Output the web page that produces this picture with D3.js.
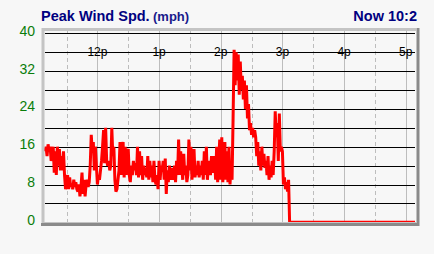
<!DOCTYPE html>
<html>
<head>
<meta charset="UTF-8">
<style>
  body { margin: 0; background: #f7f7f7; }
  svg { display: block; }
</style>
</head>
<body>
<div id="chart"></div>
<script src="https://d3js.org/d3.v7.min.js"></script>
<script>
// peak wind speed, one sample per minute, first sample at 11:09
const firstMinute = 9;          // minutes after 11:00
const lastMinute = 369;         // right edge of the window
const speeds = [
  15, 16, 14, 16.5, 15, 16, 13, 14, 16, 10.5, 15,
  10, 16, 12, 15.5, 11, 14, 11, 15, 10, 7, 9,
  10, 7, 9.5, 7.5, 8, 7, 9, 7.5, 8.5, 7, 6.5, 8, 5.5, 7.5,
  10.5, 6, 9, 5.5, 8, 9, 7.5, 8.5, 12, 18.5, 15,
  17, 11, 16, 12, 8, 10, 9, 11, 13, 16, 19.5, 12.5, 20, 13,
  12, 13, 11, 12, 20, 14, 16, 9, 6.5, 7, 9, 11, 17, 10, 15,
  17, 9.5, 16, 10, 15, 15.5, 10, 8.5, 12, 10, 13, 11, 12.5, 10,
  16, 9.5, 15, 10, 14, 9, 12, 10, 11.5, 9.5, 14, 9, 13, 9.5,
  12, 8.5, 13, 9, 8, 10, 7, 13, 9, 12, 11, 13, 9, 13.5, 6,
  11, 8.5, 12, 10.5, 9, 11.5, 9, 12, 8.5, 13, 10, 17.5, 10, 15,
  12, 9, 14.5, 10, 12, 8.5, 10, 17.5, 11, 16, 9, 13,
  15.5, 9.5, 12, 10, 13, 9.5, 12, 10, 13, 9, 15, 10, 16, 9, 12,
  13, 10, 14, 10.5, 12, 14, 9, 16, 8.5, 13, 17.5, 9, 18, 8.5, 14,
  17, 9, 15, 8.5, 16, 8, 12, 9, 22, 36.5,
  29, 36, 30, 35.5, 27, 34, 28, 31, 26, 30, 24, 29, 22, 25, 19.5, 21,
  18.5, 20, 18, 19.5, 18, 14, 17, 12, 15, 11, 16, 12, 14.5, 11.5, 13,
  10, 14, 9, 12, 9.5, 13, 10, 15, 23.5, 18, 21, 13, 23, 15, 16, 15,
  8, 9.5, 7, 8.5, 6.5, 9
];
const hourMinutes = [60, 120, 180, 240, 300, 360];
const hourLabels = ["12p", "1p", "2p", "3p", "4p", "5p"];
const halfHourMinutes = [30, 90, 150, 210, 270, 330];
const gridValues = [4, 8, 12, 16, 20, 24, 28, 32, 36, 40];
const yTickValues = [0, 8, 16, 24, 32, 40];

const W = 434, H = 254;
const svg = d3.select("#chart").append("svg")
  .attr("width", W).attr("height", H)
  .style("font-family", "'Liberation Sans', Arial, sans-serif");

svg.append("rect").attr("width", W).attr("height", H).attr("fill", "#f7f7f7");

const x = d3.scaleLinear().domain([firstMinute, lastMinute]).range([45, 415]);
const y = d3.scaleLinear().domain([0, 40]).range([222.3, 33.3]);

// points: samples, then zero until the right edge
const points = speeds.map((v, i) => ({ t: firstMinute + i, v: v }));
for (let t = firstMinute + speeds.length; t <= lastMinute; t++) points.push({ t: t, v: 0 });

// title
svg.append("text").attr("x", 41).attr("y", 21)
  .attr("fill", "#000080").attr("font-weight", "bold").attr("font-size", "14.5px")
  .text("Peak Wind Spd.");
svg.append("text").attr("x", 153).attr("y", 21)
  .attr("fill", "#1a1a8c").attr("font-weight", "bold").attr("font-size", "13px")
  .text("(mph)");
svg.append("text").attr("x", 417).attr("y", 21).attr("text-anchor", "end")
  .attr("fill", "#000080").attr("font-weight", "bold").attr("font-size", "14.5px")
  .text("Now 10:2");

// vertical grid
svg.append("g").selectAll("line").data(hourMinutes).enter().append("line")
  .attr("x1", d => Math.round(x(d)) + 0.5).attr("x2", d => Math.round(x(d)) + 0.5)
  .attr("y1", 30).attr("y2", 222)
  .attr("stroke", "#bdbdbd").attr("stroke-width", 1);
svg.append("g").selectAll("line").data(halfHourMinutes).enter().append("line")
  .attr("x1", d => Math.round(x(d)) + 0.5).attr("x2", d => Math.round(x(d)) + 0.5)
  .attr("y1", 30).attr("y2", 222)
  .attr("stroke", "#bdbdbd").attr("stroke-width", 1).attr("stroke-dasharray", "4,3");

// horizontal grid
svg.append("g").selectAll("line").data(gridValues).enter().append("line")
  .attr("x1", 45).attr("x2", 415)
  .attr("y1", d => Math.round(y(d)) + 0.5).attr("y2", d => Math.round(y(d)) + 0.5)
  .attr("stroke", "#000").attr("stroke-width", 1);

// hour labels on the 36 line
svg.append("g").selectAll("text").data(hourMinutes).enter().append("text")
  .attr("x", d => x(d)).attr("y", y(36) + 4)
  .attr("text-anchor", "middle").attr("font-size", "12px").attr("fill", "#000")
  .text((d, i) => hourLabels[i]);

// y labels
svg.append("g").selectAll("text").data(yTickValues).enter().append("text")
  .attr("x", 35).attr("y", d => y(d) + 2.5)
  .attr("text-anchor", "end").attr("font-size", "14px").attr("fill", "#0a7d0a")
  .text(d => d);

// wind line
const line = d3.line().x(d => x(d.t)).y(d => y(d.v));
svg.append("path").datum(points)
  .attr("d", line)
  .attr("fill", "none").attr("stroke", "#ff0000")
  .attr("stroke-width", 3).attr("stroke-linejoin", "bevel");

// frame (inset look)
svg.append("path").attr("d", "M43,224 V29.5 H416")
  .attr("fill", "none").attr("stroke", "#c4c4c4").attr("stroke-width", 3);
svg.append("path").attr("d", "M41,224.5 H418 V28")
  .attr("fill", "none").attr("stroke", "#8a8a8a").attr("stroke-width", 3);
svg.append("line").attr("x1", 44).attr("x2", 416).attr("y1", 222.5).attr("y2", 222.5)
  .attr("stroke", "#c4c4c4").attr("stroke-width", 1);
</script>
</body>
</html>
